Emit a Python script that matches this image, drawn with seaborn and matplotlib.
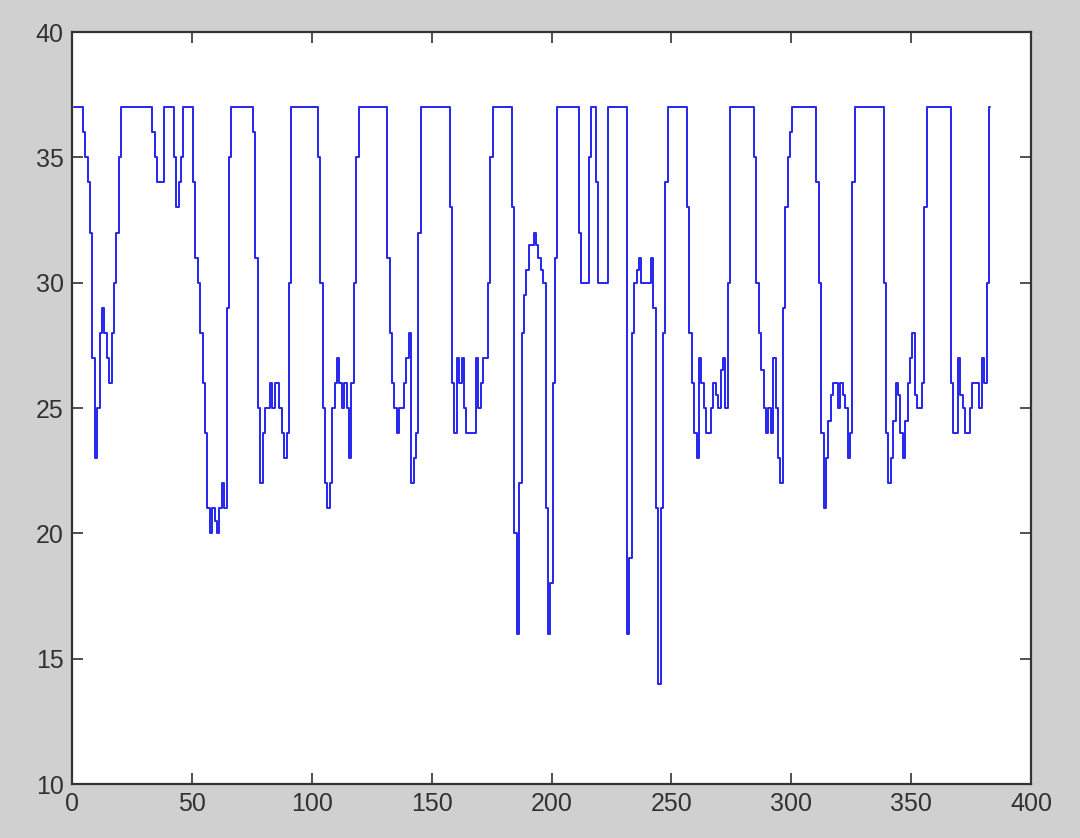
import numpy as np
import pandas as pd
import matplotlib
matplotlib.use("Agg")
import matplotlib.pyplot as plt
import seaborn as sns

# ---- data (sample index 1..383) ----
seg_a = [37, 37, 37, 37,
         36, 35, 34, 32, 27, 23, 25, 28, 29, 28, 27, 26, 28, 30, 32, 35, 37,
         37, 37, 37, 37, 37, 37, 37, 37, 37, 37, 37, 37,
         36, 35, 34, 34, 34,
         37, 37, 37, 37,
         35, 33, 34, 35,
         37, 37, 37, 37]
seg_b = [34, 31, 30, 28, 26, 24, 21, 20, 21, 20.5, 20, 21, 22, 21, 29, 35,
         37, 37, 37, 37, 37, 37, 37, 37, 37,
         36, 31, 25, 22, 24, 25, 25, 26, 25, 26, 26, 25, 24, 23, 24, 30,
         37, 37, 37, 37, 37, 37, 37, 37, 37]
seg_c = [37, 37,
         35, 30, 25, 22, 21, 22, 25, 26, 27, 26, 25, 26, 25, 23, 26, 30, 35,
         37, 37, 37, 37, 37, 37, 37, 37, 37, 37, 37, 37,
         31, 28, 26, 25, 24, 25, 25, 26, 27, 28, 22, 23, 24, 32,
         37, 37, 37, 37, 37]
seg_d = [37, 37, 37, 37, 37, 37, 37,
         33, 26, 24, 27, 26, 27, 25, 24, 24, 24, 24, 27, 25, 26, 27, 27, 30, 35,
         37, 37, 37, 37, 37, 37, 37, 37,
         33, 20, 16, 22, 28, 29.5, 30.5, 31.5, 31.5, 32, 31.5, 31, 30.5, 30, 21, 16, 18]
seg_e = [26, 31,
         37, 37, 37, 37, 37, 37, 37, 37, 37,
         32, 30, 30, 30, 35,
         37, 37,
         34, 30, 30, 30, 30,
         37, 37, 37, 37, 37, 37, 37, 37,
         16, 19, 28, 30, 30.5, 31, 30, 30, 30, 30, 31, 29, 21, 14, 21, 28, 34, 37,
         37]
seg_f = [37, 37, 37, 37, 37, 37,
         33, 28, 26, 24, 23, 27, 26, 25, 24, 24, 25, 26, 25.5, 25, 26.5, 27, 25, 30, 37,
         37, 37, 37, 37, 37, 37, 37, 37, 37,
         35, 30, 28, 26.5, 25, 24, 25, 24, 27, 25, 23, 22, 29, 33, 35, 36]
seg_g = [37, 37, 37, 37, 37, 37, 37, 37, 37, 37,
         34, 30, 24, 21, 23, 24.5, 25.5, 26, 26, 25, 26, 25.5, 25, 23, 24, 34,
         37, 37, 37, 37, 37, 37, 37, 37, 37, 37, 37, 37,
         30, 24, 22, 23, 24.5, 26, 25.5, 24, 23, 24.5, 26, 27]
seg_h = [28, 25.5, 25, 25, 26, 33,
         37, 37, 37, 37, 37, 37, 37, 37, 37, 37,
         26, 24, 24, 27, 25.5, 25, 24, 24, 25, 26, 26, 26, 25, 27, 26, 30, 37]

values = seg_a + seg_b + seg_c + seg_d + seg_e + seg_f + seg_g + seg_h
x_ticks = [0, 50, 100, 150, 200, 250, 300, 350, 400]
y_ticks = [10, 15, 20, 25, 30, 35, 40]

df = pd.DataFrame({"idx": np.arange(1, len(values) + 1), "val": values})

# ---- figure ----
sns.set_theme(style="white")
plt.rcParams["font.family"] = ["Liberation Sans", "DejaVu Sans"]

fig = plt.figure(figsize=(10.8, 8.38), dpi=100, facecolor="#d0d0d0")
ax = fig.add_axes([72 / 1080, 1 - 784 / 838, (1031 - 72) / 1080, (784 - 32) / 838])
ax.set_facecolor("white")

sns.lineplot(data=df, x="idx", y="val", ax=ax, color="#2626f0",
             linewidth=1.4, estimator=None, sort=False, drawstyle="steps-mid")

ax.set_xlim(0, 400)
ax.set_ylim(10, 40)
ax.set_xticks(x_ticks)
ax.set_yticks(y_ticks)
ax.set_xlabel("")
ax.set_ylabel("")

for s in ax.spines.values():
    s.set_visible(True)
    s.set_color("#333333")
    s.set_linewidth(1.6)

ax.tick_params(axis="both", which="both", direction="in", length=8, width=1.2,
               color="#333333", labelsize=18, labelcolor="#333333",
               top=True, right=True, bottom=True, left=True, pad=6)

fig.savefig("out.png", dpi=100, facecolor=fig.get_facecolor())
